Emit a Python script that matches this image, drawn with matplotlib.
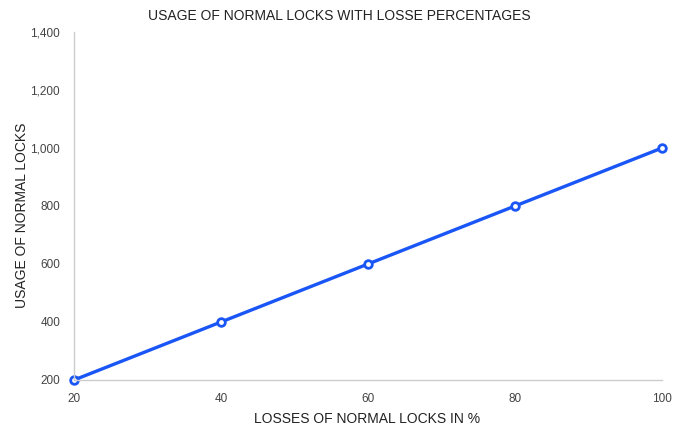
import matplotlib
matplotlib.use('Agg')
import matplotlib.pyplot as plt
from matplotlib.ticker import FuncFormatter

plt.rcParams['font.family'] = ['Liberation Sans', 'DejaVu Sans']

# Datos
losses = [20, 40, 60, 80, 100]
usage = [200, 400, 600, 800, 1000]
y_ticks = [200, 400, 600, 800, 1000, 1200, 1400]

fig = plt.figure(figsize=(6.83, 4.29), dpi=100)
ax = fig.add_axes([74 / 683, 1 - 380 / 429, (662 - 74) / 683, (380 - 32) / 429])

ax.plot(losses, usage, color='#1a56f5', linewidth=2.4, marker='o', markersize=5.5,
        markerfacecolor='white', markeredgecolor='#1a56f5', markeredgewidth=2, clip_on=False)

ax.set_xlim(20, 100)
ax.set_ylim(200, 1400)
ax.set_xticks(losses)
ax.set_yticks(y_ticks)
ax.yaxis.set_major_formatter(FuncFormatter(lambda v, p: f'{int(v):,}'))

for s in ['top', 'right']:
    ax.spines[s].set_visible(False)
for s in ['left', 'bottom']:
    ax.spines[s].set_color('#cccccc')
    ax.spines[s].set_linewidth(1)

ax.tick_params(length=0, labelsize=8.5, colors='#444444', pad=9)
ax.tick_params(axis='y', pad=10)

fig.text(339 / 683, 1 - 16 / 429, 'USAGE OF NORMAL LOCKS WITH LOSSE PERCENTAGES',
         ha='center', va='center', fontsize=10, color='#222222')
fig.text(367 / 683, 1 - 419 / 429, 'LOSSES OF NORMAL LOCKS IN %',
         ha='center', va='center', fontsize=10, color='#222222')
fig.text(22 / 683, 1 - 215 / 429, 'USAGE OF NORMAL LOCKS', rotation=90,
         ha='center', va='center', fontsize=10, color='#222222')

fig.savefig('out.png', dpi=100)
